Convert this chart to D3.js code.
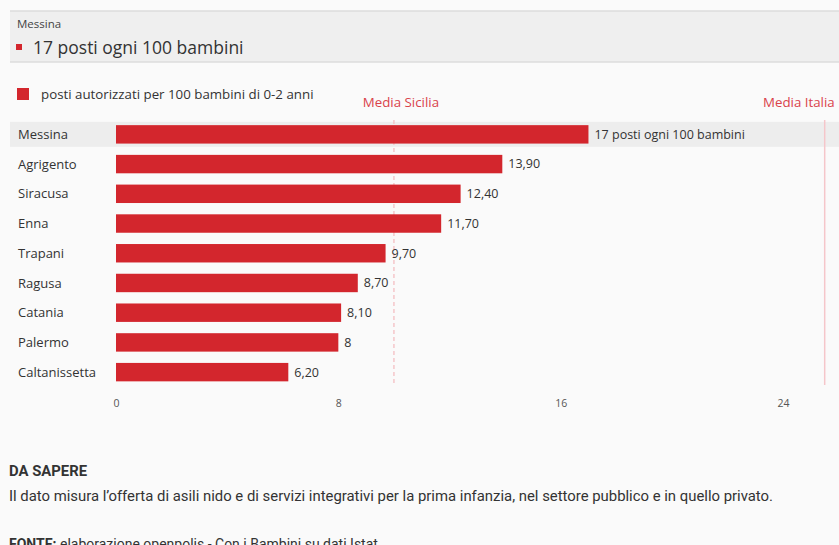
<!DOCTYPE html>
<html>
<head>
<meta charset="utf-8">
<script src="https://cdn.jsdelivr.net/npm/d3@7"></script>
<style>
  body { margin: 0; background: #fafafa; }
  svg { display: block; font-family: "Open Sans", "Noto Sans", sans-serif; }
  .narrow { font-family: "Roboto", sans-serif; }
</style>
</head>
<body>
<div id="chart"></div>
<script>
// data
var provinces = ["Messina", "Agrigento", "Siracusa", "Enna", "Trapani", "Ragusa", "Catania", "Palermo", "Caltanissetta"];
var values = [17, 13.9, 12.4, 11.7, 9.7, 8.7, 8.1, 8, 6.2];
var valueLabels = ["17 posti ogni 100 bambini", "13,90", "12,40", "11,70", "9,70", "8,70", "8,10", "8", "6,20"];
var tickValues = [0, 8, 16, 24];
var refNames = ["Media Sicilia", "Media Italia"];
var refValues = [10, 25.5];

var width = 839, height = 545;
var red = "#d3262d";

var svg = d3.select("#chart").append("svg")
    .attr("width", width)
    .attr("height", height);

// header box
svg.append("rect").attr("x", 10).attr("y", 11).attr("width", width - 10).attr("height", 51)
    .attr("fill", "#efefef");
svg.append("line").attr("x1", 10).attr("x2", width).attr("y1", 11).attr("y2", 11)
    .attr("stroke", "#dcdcdc").attr("stroke-width", 1.5);
svg.append("line").attr("x1", 10).attr("x2", width).attr("y1", 62).attr("y2", 62)
    .attr("stroke", "#dcdcdc").attr("stroke-width", 1.5);
svg.append("text").attr("x", 17).attr("y", 28).attr("font-size", 11.5).attr("fill", "#444")
    .text(provinces[0]);
svg.append("rect").attr("x", 16).attr("y", 44).attr("width", 6).attr("height", 6).attr("fill", red);
svg.append("text").attr("x", 33).attr("y", 54).attr("font-size", 17.5).attr("fill", "#333")
    .text(valueLabels[0]);

// legend
svg.append("rect").attr("x", 17).attr("y", 88).attr("width", 12).attr("height", 12).attr("fill", red);
svg.append("text").attr("x", 41).attr("y", 99).attr("font-size", 13.3).attr("fill", "#333")
    .text("posti autorizzati per 100 bambini di 0-2 anni");

// scales
var x = d3.scaleLinear().domain([0, 24]).range([116, 783]);
var y = d3.scaleBand().domain(provinces).range([119.5, 387]).paddingInner(0.38).paddingOuter(0.19);

// highlight band for Messina
svg.append("rect")
    .attr("x", 10).attr("width", width - 10)
    .attr("y", y(provinces[0]) + y.bandwidth() / 2 - 12.5).attr("height", 25)
    .attr("fill", "#ededed");

// reference lines
var refs = svg.append("g").selectAll("g").data(refNames).join("g");
refs.append("line")
    .attr("x1", (d, i) => x(refValues[i])).attr("x2", (d, i) => x(refValues[i]))
    .attr("y1", 120).attr("y2", 385)
    .attr("stroke", "#f5c6ca").attr("stroke-width", 1.5)
    .attr("stroke-dasharray", (d, i) => i === 0 ? "4,3" : null);
refs.append("text")
    .attr("x", (d, i) => x(refValues[i]))
    .attr("y", 107)
    .attr("text-anchor", (d, i) => i === 0 ? "middle" : "end")
    .attr("dx", (d, i) => i === 0 ? 7 : 10)
    .attr("font-size", 13.3).attr("fill", "#d9434b")
    .text(d => d);

// bars
svg.append("g").selectAll("rect").data(provinces).join("rect")
    .attr("x", x(0))
    .attr("y", d => y(d))
    .attr("width", (d, i) => x(values[i]) - x(0))
    .attr("height", y.bandwidth())
    .attr("fill", red);

// category labels
svg.append("g").selectAll("text").data(provinces).join("text")
    .attr("x", 18)
    .attr("y", d => y(d) + y.bandwidth() / 2)
    .attr("dy", "0.35em")
    .attr("font-size", 13).attr("fill", "#333")
    .text(d => d);

// value labels
svg.append("g").selectAll("text").data(provinces).join("text")
    .attr("x", (d, i) => x(values[i]) + 6)
    .attr("y", d => y(d) + y.bandwidth() / 2)
    .attr("dy", "0.35em")
    .attr("font-size", 12.5).attr("fill", "#333")
    .text((d, i) => valueLabels[i]);

// x axis
var axis = svg.append("g").attr("transform", "translate(0,394)")
    .call(d3.axisBottom(x).tickValues(tickValues).tickSize(0).tickPadding(6));
axis.select(".domain").remove();
axis.selectAll("text").attr("font-size", 10.5).attr("fill", "#555")
    .style("font-family", "'Open Sans', 'Noto Sans', sans-serif");

// notes
svg.append("text").attr("class", "narrow").attr("x", 9).attr("y", 476)
    .attr("font-size", 14).attr("font-weight", "bold").attr("fill", "#333")
    .attr("textLength", 78).attr("lengthAdjust", "spacingAndGlyphs")
    .text("DA SAPERE");
svg.append("text").attr("class", "narrow").attr("x", 9).attr("y", 501)
    .attr("font-size", 14).attr("fill", "#333")
    .attr("textLength", 764).attr("lengthAdjust", "spacingAndGlyphs")
    .text("Il dato misura l’offerta di asili nido e di servizi integrativi per la prima infanzia, nel settore pubblico e in quello privato.");
svg.append("text").attr("class", "narrow").attr("x", 9).attr("y", 549)
    .attr("font-size", 14).attr("fill", "#333")
    .html("<tspan font-weight='bold'>FONTE:</tspan> elaborazione openpolis - Con i Bambini su dati Istat");
</script>
</body>
</html>
